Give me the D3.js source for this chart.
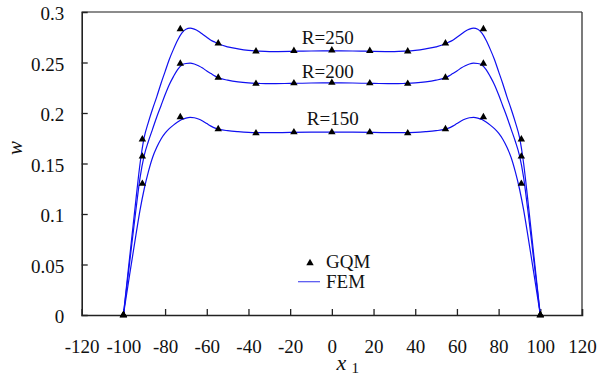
<!DOCTYPE html>
<html><head><meta charset="utf-8">
<script src="https://cdn.jsdelivr.net/npm/d3@7"></script>
<style>html,body{margin:0;padding:0;background:#fff;}svg{display:block;}</style>
</head><body>
<script>
const xTicks = [-120,-100,-80,-60,-40,-20,0,20,40,60,80,100,120];
const yTicks = [0,0.05,0.1,0.15,0.2,0.25,0.3];
const yTickLabels = ["0","0.05","0.1","0.15","0.2","0.25","0.3"];

const gqmX = [-100,-90.9,-72.7,-54.5,-36.4,-18.2,0,18.2,36.4,54.5,72.7,90.9,100];
const gqmR250 = [0,0.174,0.283,0.269,0.261,0.2615,0.262,0.2615,0.261,0.269,0.283,0.174,0];
const gqmR200 = [0,0.157,0.249,0.235,0.229,0.2295,0.23,0.2295,0.229,0.235,0.249,0.157,0];
const gqmR150 = [0,0.130,0.196,0.184,0.180,0.181,0.181,0.181,0.180,0.184,0.196,0.130,0];

const femX = [-100,-97,-94,-92,-90,-88,-86,-84,-82,-80,-78,-76,-74,-72,-70,-68,-66,-64,-62,-60,-58,-56,-54,-50,-45,-40,-35,-30,-20,-10,0,
              10,20,30,35,40,45,50,54,56,58,60,62,64,66,68,70,72,74,76,78,80,82,84,86,88,90,92,94,97,100];
const femR250 = [0,0.057,0.114,0.150,0.176,0.191,0.204,0.216,0.229,0.241,0.253,0.263,0.272,0.279,0.283,0.284,0.283,0.281,0.278,0.275,0.272,0.270,0.268,0.2655,0.2635,0.262,0.2612,0.2608,0.261,0.2614,0.2615,
                 0.2614,0.261,0.2608,0.2612,0.262,0.2635,0.2655,0.268,0.270,0.272,0.275,0.278,0.281,0.283,0.284,0.283,0.279,0.272,0.263,0.253,0.241,0.229,0.216,0.204,0.191,0.176,0.150,0.114,0.057,0];
const femR200 = [0,0.052,0.104,0.136,0.158,0.172,0.184,0.196,0.207,0.218,0.228,0.236,0.243,0.2475,0.249,0.2493,0.2485,0.2468,0.2445,0.2415,0.239,0.2365,0.2345,0.2325,0.2308,0.2298,0.2293,0.229,0.2293,0.2297,0.2298,
                 0.2297,0.2293,0.229,0.2293,0.2298,0.2308,0.2325,0.2345,0.2365,0.239,0.2415,0.2445,0.2468,0.2485,0.2493,0.249,0.2475,0.243,0.236,0.228,0.218,0.207,0.196,0.184,0.172,0.158,0.136,0.104,0.052,0];
const femR150 = [0,0.040,0.079,0.104,0.125,0.142,0.156,0.166,0.174,0.180,0.1845,0.188,0.191,0.1935,0.195,0.1957,0.1953,0.194,0.192,0.1895,0.187,0.185,0.1838,0.1825,0.1815,0.1808,0.1805,0.1805,0.1808,0.181,0.1811,
                 0.181,0.1808,0.1805,0.1805,0.1808,0.1815,0.1825,0.1838,0.185,0.187,0.1895,0.192,0.194,0.1953,0.1957,0.195,0.1935,0.191,0.188,0.1845,0.180,0.174,0.166,0.156,0.142,0.125,0.104,0.079,0.040,0];

const seriesLabels = ["R=250","R=200","R=150"];
const labelX = [-14.4,-14.4,-12];
const labelY = [0.2683,0.2347,0.1881];

const W = 601, H = 378;
const L = 81.7, R = 582, T = 12, B = 315;
const font = "'Liberation Serif','Times New Roman',serif";

const svg = d3.select("body").append("svg").attr("width", W).attr("height", H)
  .style("background","#fff");

const x = d3.scaleLinear().domain([-120,120]).range([L,R]);
const y = d3.scaleLinear().domain([0,0.3]).range([B,T]);

// frame
svg.append("line").attr("x1",L).attr("x2",R).attr("y1",T).attr("y2",T).attr("stroke","#666").attr("stroke-width",1.3);
svg.append("line").attr("x1",R).attr("x2",R).attr("y1",T).attr("y2",B).attr("stroke","#333").attr("stroke-width",1.3);

const gx = svg.append("g").attr("transform",`translate(0,${B})`)
  .call(d3.axisBottom(x).tickValues(xTicks).tickSize(-6).tickPadding(24.8).tickFormat(d=>String(d)));
const gy = svg.append("g").attr("transform",`translate(${L},0)`)
  .call(d3.axisLeft(y).tickValues(yTicks).tickSize(-6).tickPadding(17.5).tickFormat((d,i)=>yTickLabels[i]));
[gx,gy].forEach(g=>{
  g.attr("font-family",font).attr("font-size",19);
  g.select(".domain").attr("stroke","#222").attr("stroke-width",1.6);
  g.selectAll(".tick line").attr("stroke","#222").attr("stroke-width",1.3);
  g.selectAll(".tick text").attr("font-family",font).attr("font-size",19).attr("fill","#111");
});
gy.selectAll(".tick text").attr("dy","0.42em");
gy.selectAll(".tick").filter(d=>d===0.3).select("line").remove();
gx.selectAll(".tick").filter(d=>d===120).select("line").remove();
gx.selectAll(".tick").filter(d=>d===-120).select("line").remove();
gy.selectAll(".tick").filter(d=>d===0).select("line").remove();

// FEM curves
const line = d3.line().x(d=>x(d[0])).y(d=>y(d[1])).curve(d3.curveMonotoneX);
[femR250,femR200,femR150].forEach(s=>{
  svg.append("path").datum(femX.map((v,i)=>[v,s[i]]))
    .attr("d",line).attr("fill","none").attr("stroke","#1010f0").attr("stroke-width",1.2);
});

// GQM markers
const tri = d3.symbol().type(d3.symbolTriangle).size(24);
[gqmR250,gqmR200,gqmR150].forEach(s=>{
  svg.append("g").selectAll("path").data(gqmX.map((v,i)=>[v,s[i]])).join("path")
    .attr("d",tri).attr("transform",d=>`translate(${x(d[0])},${y(d[1])})`).attr("fill","#000");
});

// series labels
seriesLabels.forEach((t,i)=>{
  svg.append("text").attr("x",x(labelX[i])).attr("y",y(labelY[i]))
    .attr("font-family",font).attr("font-size",19).attr("fill","#111").text(t);
});

// legend
svg.append("path").attr("d",tri).attr("transform","translate(310,263)").attr("fill","#000");
svg.append("text").attr("x",326).attr("y",268).attr("font-family",font).attr("font-size",19).attr("fill","#111").text("GQM");
svg.append("line").attr("x1",298).attr("x2",320).attr("y1",281.7).attr("y2",281.7).attr("stroke","#5050f0").attr("stroke-width",1.2);
svg.append("text").attr("x",326).attr("y",288).attr("font-family",font).attr("font-size",19).attr("fill","#111").text("FEM");

// axis titles
svg.append("text").attr("transform","translate(21.5,148) rotate(-90)").attr("text-anchor","middle")
  .attr("font-family",font).attr("font-style","italic").attr("font-size",21).attr("fill","#111").text("w");
const xt = svg.append("text").attr("x",336.5).attr("y",370).attr("font-family",font).attr("fill","#111");
xt.append("tspan").attr("font-style","italic").attr("font-size",22).text("x");
xt.append("tspan").attr("x",351.5).attr("y",373).attr("font-size",15).text("1");
</script>
</body></html>
